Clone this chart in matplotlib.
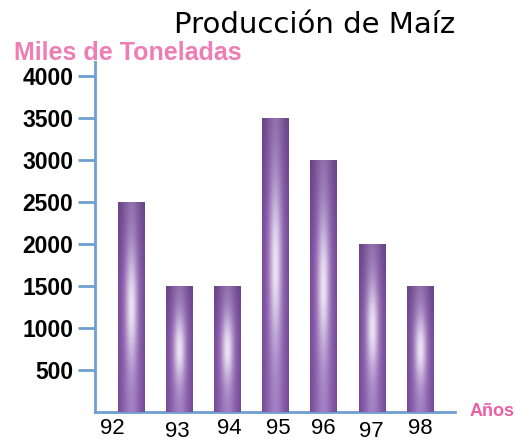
import numpy as np
import matplotlib
matplotlib.use("Agg")
import matplotlib.pyplot as plt
from matplotlib.transforms import ScaledTranslation

years = ["92", "93", "94", "95", "96", "97", "98"]
production = [2500, 1500, 1500, 3500, 3000, 2000, 1500]
yticks = [500, 1000, 1500, 2000, 2500, 3000, 3500, 4000]

W, H = 516, 441
fig = plt.figure(figsize=(W / 100, H / 100), dpi=100)
axl, axr, axt, axb = 95, 455, 62, 412
ax = fig.add_axes([axl / W, 1 - axb / H, (axr - axl) / W, (axb - axt) / H])

x = np.arange(len(years))
bw = 0.56
bars = ax.bar(x, production, width=bw, color="#8a5fab", zorder=2)

# cylinder-like gradient
nu, nv = 64, 256
u = np.linspace(-1, 1, nu)
v = np.linspace(0, 1, nv)
U, V = np.meshgrid(u, v)
edge = np.array([0.45, 0.27, 0.58])
cen = np.array([0.63, 0.49, 0.76])
t = np.exp(-(U / 0.7) ** 2)[..., None]
base = edge * (1 - t) + cen * t
dark = (1 - 0.12 * np.clip((V - 0.6) / 0.4, 0, 1))[..., None]
base = base * dark
hl = (np.exp(-(U / 0.4) ** 2) * np.exp(-((V - 0.5) / 0.26) ** 2) * 0.85)[..., None]
img = base * (1 - hl) + np.array([0.98, 0.96, 0.99]) * hl
for b in bars:
    x0, y0 = b.get_x(), b.get_y()
    w, h = b.get_width(), b.get_height()
    im = ax.imshow(img, extent=[x0, x0 + w, y0, y0 + h], origin="lower",
                   aspect="auto", zorder=3, interpolation="bilinear")
    im.set_clip_path(b)

ax.set_xlim(-0.75, 6.72)
ax.set_ylim(0, 4170)

axis_col = "#6f9fd0"
for s in ["top", "right"]:
    ax.spines[s].set_visible(False)
ax.spines["left"].set_color(axis_col)
ax.spines["bottom"].set_color(axis_col)
ax.spines["left"].set_linewidth(2)
ax.spines["bottom"].set_linewidth(2)

ax.set_yticks(yticks)
ax.set_yticklabels([str(t) for t in yticks], fontsize=16.5, fontweight="bold",
                   family="Liberation Sans")
ax.tick_params(axis="y", length=12.5, width=2, color=axis_col, pad=3)

ax.set_xticks(x)
ax.set_xticklabels(years, fontsize=16, family="Liberation Sans")
ax.tick_params(axis="x", length=0, pad=4)
offsets = [(-19, 0), (-2, -3), (2, 0), (3, 0), (-1, 0), (-1, -3), (0, 0)]
for lab, (dx, dy) in zip(ax.get_xticklabels(), offsets):
    lab.set_transform(lab.get_transform() +
                      ScaledTranslation(dx / 100, dy / 100, fig.dpi_scale_trans))

ax.set_ylim(0, 4170)

pink = "#ee7db5"
fig.text(14 / W, 1 - 53 / H, "Miles de Toneladas", color=pink, fontsize=18,
         fontweight="bold", family="Liberation Sans", ha="left", va="center")
fig.text(470 / W, 1 - 411 / H, "Años", color="#ea5fa6", fontsize=13,
         fontweight="bold", family="Liberation Sans", ha="left", va="center")
fig.text(315 / W, 1 - 25 / H, "Producción de Maíz", color="black", fontsize=21,
         family="DejaVu Sans", ha="center", va="center")

fig.savefig("out.png", dpi=100)
